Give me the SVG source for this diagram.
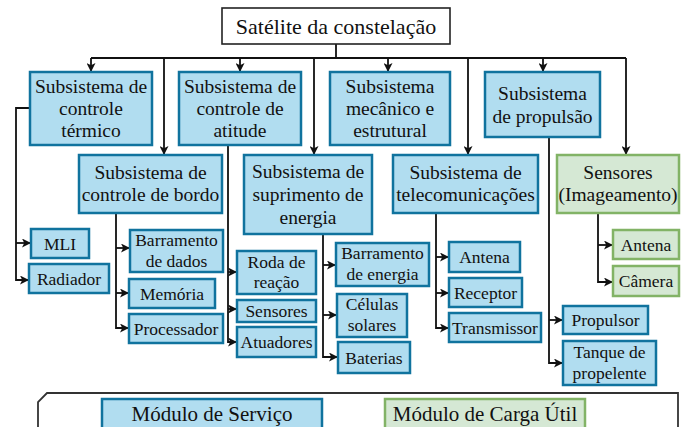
<svg xmlns="http://www.w3.org/2000/svg" width="690" height="427" viewBox="0 0 690 427" font-family="'Liberation Serif', 'Times New Roman', serif">
<defs>
<marker id="arr" viewBox="0 0 10 10" refX="10" refY="5" markerWidth="9" markerHeight="9" markerUnits="userSpaceOnUse" orient="auto">
<path d="M0,0 L10,5 L0,10 L2.5,5 z" fill="#111"/>
</marker>
<style>
text{font-family:'Liberation Serif','Times New Roman',serif;fill:#111;text-anchor:middle}
.b{fill:#b1ddf0;stroke:#10739e;stroke-width:2.5}
.g{fill:#d5e8d4;stroke:#82b366;stroke-width:2.5}
.w{fill:#fff;stroke:#222;stroke-width:1.6}
.t1{font-size:22px}
.t2{font-size:19.5px}
.t3{font-size:17.5px}
.t4{font-size:21px}
.c{fill:none;stroke:#111;stroke-width:1.8}
.ca{fill:none;stroke:#111;stroke-width:1.8;marker-end:url(#arr)}
</style>
</defs>
<rect width="690" height="427" fill="#fff"/>
<g id="connectors">
<path class="c" d="M336,44 V58 M91,58 H626"/>
<path class="ca" d="M91,58 V72"/>
<path class="ca" d="M164,58 V155"/>
<path class="ca" d="M240,58 V72"/>
<path class="ca" d="M314,58 V155"/>
<path class="ca" d="M388,58 V72"/>
<path class="ca" d="M468,58 V155"/>
<path class="ca" d="M543,58 V72"/>
<path class="ca" d="M626,58 V155"/>
<path class="ca" d="M30,108 H16 V280 H29"/>
<path class="ca" d="M16,243 H31"/>
<path class="ca" d="M116,213 V328 H129"/>
<path class="ca" d="M116,248 H130"/>
<path class="ca" d="M116,293 H129"/>
<path class="ca" d="M228,145 V342 H237"/>
<path class="ca" d="M228,272 H237"/>
<path class="ca" d="M228,309 H237"/>
<path class="ca" d="M323,234 V357 H338"/>
<path class="ca" d="M323,265 H336"/>
<path class="ca" d="M323,315 H337"/>
<path class="ca" d="M436,213 V328 H449"/>
<path class="ca" d="M436,257 H449"/>
<path class="ca" d="M436,293 H449"/>
<path class="ca" d="M549,137 V363 H563"/>
<path class="ca" d="M549,320 H563"/>
<path class="ca" d="M598,213 V282 H613"/>
<path class="ca" d="M598,245 H613"/>
</g>
<g id="satelite"><rect class="w" x="222" y="8" width="228" height="36"/><text class="t1" x="336" y="33.5">Satélite da constelação</text></g>
<g id="termico"><rect class="b" x="30" y="72" width="122" height="73"/><text class="t2" x="91"><tspan x="91" y="93">Subsistema de</tspan><tspan x="91" y="115">controle</tspan><tspan x="91" y="137">térmico</tspan></text></g>
<g id="atitude"><rect class="b" x="179" y="72" width="122" height="73"/><text class="t2" x="240"><tspan x="240" y="93">Subsistema de</tspan><tspan x="240" y="115">controle de</tspan><tspan x="240" y="137">atitude</tspan></text></g>
<g id="mecanico"><rect class="b" x="330" y="72" width="120" height="73"/><text class="t2" x="390"><tspan x="390" y="93">Subsistema</tspan><tspan x="390" y="115">mecânico e</tspan><tspan x="390" y="137">estrutural</tspan></text></g>
<g id="propulsao"><rect class="b" x="485" y="72" width="115" height="65"/><text class="t2" x="542.5"><tspan x="542.5" y="100">Subsistema</tspan><tspan x="542.5" y="122.5">de propulsão</tspan></text></g>
<g id="bordo"><rect class="b" x="79" y="155" width="143" height="58"/><text class="t2" x="150.5"><tspan x="150.5" y="178.5">Subsistema de</tspan><tspan x="150.5" y="201">controle de bordo</tspan></text></g>
<g id="energia"><rect class="b" x="244" y="155" width="128" height="79"/><text class="t2" x="308"><tspan x="308" y="178">Subsistema de</tspan><tspan x="308" y="201">suprimento de</tspan><tspan x="308" y="223.5">energia</tspan></text></g>
<g id="telecom"><rect class="b" x="393" y="155" width="145" height="58"/><text class="t2" x="465.5"><tspan x="465.5" y="178.5">Subsistema de</tspan><tspan x="465.5" y="201">telecomunicações</tspan></text></g>
<g id="sensores"><rect class="g" x="557" y="155" width="122" height="58"/><text class="t2" x="618"><tspan x="618" y="178.5">Sensores</tspan><tspan x="618" y="201">(Imageamento)</tspan></text></g>
<g id="mli"><rect class="b" x="31" y="229" width="58" height="29"/><text class="t3" x="60" y="249.5">MLI</text></g>
<g id="radiador"><rect class="b" x="29" y="264" width="80" height="29"/><text class="t3" x="69" y="284.5">Radiador</text></g>
<g id="barr-dados"><rect class="b" x="130" y="230" width="93" height="42"/><text class="t3" x="176.5"><tspan x="176.5" y="246">Barramento</tspan><tspan x="176.5" y="267">de dados</tspan></text></g>
<g id="memoria"><rect class="b" x="129" y="279" width="86" height="29"/><text class="t3" x="172" y="299.5">Memória</text></g>
<g id="processador"><rect class="b" x="129" y="314" width="94" height="29"/><text class="t3" x="176" y="334.5">Processador</text></g>
<g id="roda"><rect class="b" x="237" y="251" width="79" height="43"/><text class="t3" x="276.5"><tspan x="276.5" y="267.5">Roda de</tspan><tspan x="276.5" y="288">reação</tspan></text></g>
<g id="sensores-at"><rect class="b" x="237" y="300" width="79" height="22"/><text class="t3" x="276.5" y="316.5">Sensores</text></g>
<g id="atuadores"><rect class="b" x="237" y="327" width="79" height="30"/><text class="t3" x="276.5" y="348">Atuadores</text></g>
<g id="barr-energia"><rect class="b" x="336" y="243" width="93" height="43"/><text class="t3" x="382.5"><tspan x="382.5" y="259">Barramento</tspan><tspan x="382.5" y="280">de energia</tspan></text></g>
<g id="celulas"><rect class="b" x="337" y="294" width="70" height="43"/><text class="t3" x="372"><tspan x="372" y="310">Células</tspan><tspan x="372" y="330.5">solares</tspan></text></g>
<g id="baterias"><rect class="b" x="338" y="342" width="72" height="31"/><text class="t3" x="374" y="363.5">Baterias</text></g>
<g id="antena-t"><rect class="b" x="449" y="242" width="71" height="30"/><text class="t3" x="484.5" y="263">Antena</text></g>
<g id="receptor"><rect class="b" x="449" y="278" width="73" height="29"/><text class="t3" x="485.5" y="298.5">Receptor</text></g>
<g id="transmissor"><rect class="b" x="449" y="313" width="92" height="29"/><text class="t3" x="495" y="333.5">Transmissor</text></g>
<g id="propulsor"><rect class="b" x="563" y="306" width="85" height="28"/><text class="t3" x="605.5" y="326">Propulsor</text></g>
<g id="tanque"><rect class="b" x="563" y="341" width="93" height="44"/><text class="t3" x="609.5"><tspan x="609.5" y="357.5">Tanque de</tspan><tspan x="609.5" y="378.5">propelente</tspan></text></g>
<g id="antena-s"><rect class="g" x="613" y="230" width="66" height="29"/><text class="t3" x="646" y="250.5">Antena</text></g>
<g id="camera"><rect class="g" x="613" y="266" width="66" height="30"/><text class="t3" x="646" y="287">Câmera</text></g>
<g id="legenda">
<path d="M38,440 V402 L47,393 H678 V440" fill="none" stroke="#333" stroke-width="1.8"/>
<rect class="b" x="102" y="399" width="220" height="40"/><text class="t4" x="212" y="421">Módulo de Serviço</text>
<rect class="g" x="385" y="399" width="200" height="40"/><text class="t4" x="485" y="421">Módulo de Carga Útil</text>
</g>
</svg>
